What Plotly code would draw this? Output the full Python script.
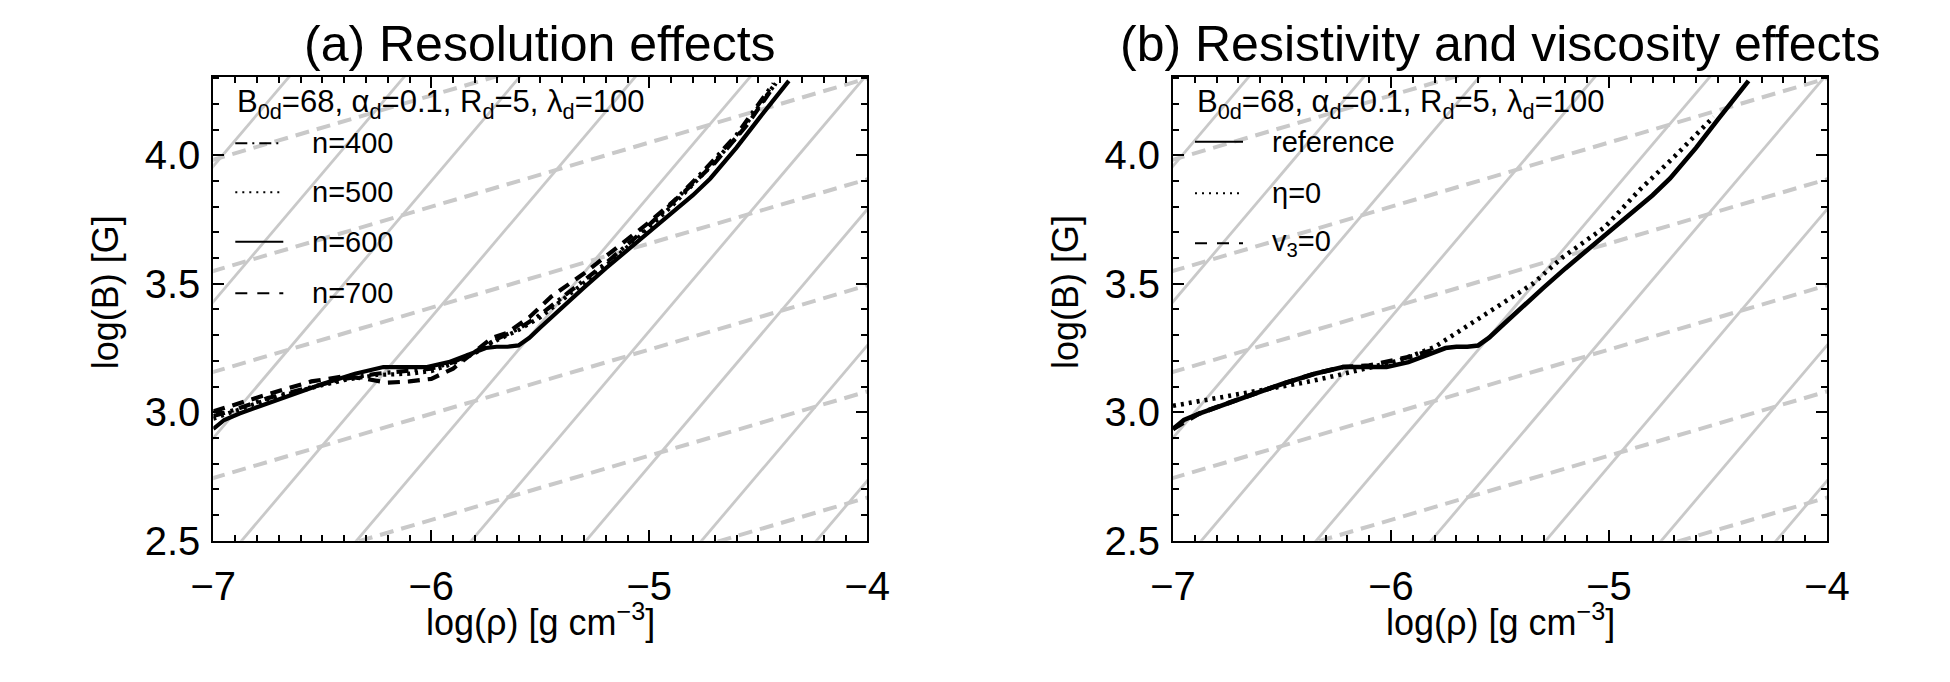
import plotly.graph_objects as go

W, H = 1950, 682

# ---------------- data ----------------
# Panel (a): resolution runs, log(rho) vs log(B)
RHO_N400 = [-7.0, -6.9, -6.75, -6.55, -6.4, -6.25, -6.1, -6.0, -5.9, -5.8, -5.7, -5.6, -5.5, -5.35, -5.2, -5.05, -4.9, -4.75, -4.6, -4.43]
B_N400 = [2.985, 3.01, 3.055, 3.10, 3.13, 3.15, 3.16, 3.17, 3.195, 3.235, 3.285, 3.325, 3.38, 3.48, 3.58, 3.69, 3.81, 3.94, 4.08, 4.28]

RHO_N500 = [-7.0, -6.9, -6.75, -6.55, -6.4, -6.25, -6.1, -6.0, -5.9, -5.8, -5.7, -5.6, -5.5, -5.35, -5.2, -5.05, -4.9, -4.75, -4.6, -4.43]
B_N500 = [2.975, 3.005, 3.05, 3.095, 3.125, 3.145, 3.15, 3.16, 3.19, 3.23, 3.28, 3.32, 3.37, 3.47, 3.57, 3.68, 3.80, 3.93, 4.07, 4.27]

RHO_N600 = [-7.00, -6.95, -6.88, -6.70, -6.50, -6.35, -6.28, -6.22, -6.10, -6.02, -5.92, -5.82, -5.75, -5.70, -5.65, -5.60, -5.55, -5.50, -5.40, -5.30, -5.20, -5.10, -5.00, -4.90, -4.80, -4.72, -4.60, -4.50, -4.36]
B_N600 = [2.935, 2.97, 2.995, 3.05, 3.11, 3.15, 3.165, 3.176, 3.176, 3.176, 3.195, 3.225, 3.25, 3.255, 3.255, 3.26, 3.29, 3.33, 3.41, 3.485, 3.56, 3.63, 3.70, 3.77, 3.845, 3.91, 4.03, 4.14, 4.29]

RHO_N700 = [-7.0, -6.9, -6.75, -6.55, -6.4, -6.3, -6.2, -6.1, -6.0, -5.9, -5.8, -5.72, -5.65, -5.55, -5.45, -5.3, -5.15, -5.0, -4.85, -4.7, -4.55, -4.42]
B_N700 = [3.003, 3.03, 3.07, 3.12, 3.14, 3.13, 3.115, 3.12, 3.13, 3.17, 3.235, 3.29, 3.31, 3.37, 3.45, 3.54, 3.64, 3.74, 3.85, 3.97, 4.12, 4.28]

# Panel (b): resistivity / viscosity runs
RHO_REF = [-7.00, -6.95, -6.88, -6.70, -6.50, -6.35, -6.28, -6.22, -6.10, -6.02, -5.92, -5.82, -5.75, -5.70, -5.65, -5.60, -5.55, -5.50, -5.40, -5.30, -5.20, -5.10, -5.00, -4.90, -4.80, -4.72, -4.60, -4.50, -4.36]
B_REF = [2.935, 2.97, 2.995, 3.05, 3.11, 3.15, 3.165, 3.176, 3.176, 3.176, 3.195, 3.225, 3.25, 3.255, 3.255, 3.26, 3.29, 3.33, 3.41, 3.485, 3.56, 3.63, 3.70, 3.77, 3.845, 3.91, 4.03, 4.14, 4.29]

RHO_ETA0 = [-7.0, -6.8, -6.6, -6.39, -6.25, -6.125, -5.96, -5.80, -5.68, -5.51, -5.35, -5.21, -5.02, -4.86, -4.70, -4.52]
B_ETA0 = [3.025, 3.055, 3.085, 3.117, 3.143, 3.169, 3.202, 3.254, 3.319, 3.41, 3.50, 3.605, 3.72, 3.865, 3.995, 4.15]

RHO_V30 = [-7.0, -6.88, -6.7, -6.5, -6.35, -6.22, -6.1, -6.0, -5.9, -5.8]
B_V30 = [2.935, 2.995, 3.05, 3.11, 3.15, 3.176, 3.182, 3.198, 3.218, 3.245]

# Grey guide lines: log B = slope * log rho + offset
GUIDE_SOLID_SLOPE = 1.0
GUIDE_SOLID_OFFSETS = [10.958, 10.43, 9.90, 9.37, 8.843, 8.316, 7.79, 7.26, 6.733]
GUIDE_DASH_SLOPE = 0.25
GUIDE_DASH_OFFSETS = [5.733, 5.30, 4.907, 4.494, 4.081, 3.668]

X_RANGE = [-7, -4]
Y_RANGE = [2.5, 4.305]
X_TICKS = [-7, -6, -5, -4]
Y_TICKS = [2.5, 3.0, 3.5, 4.0]
Y_TICK_TEXT = ["2.5", "3.0", "3.5", "4.0"]

PARAM_TEXT = "B<sub>0d</sub>=68, α<sub>d</sub>=0.1, R<sub>d</sub>=5, λ<sub>d</sub>=100"
TITLES = ["(a) Resolution effects", "(b) Resistivity and viscosity effects"]
LEGEND_A = ["n=400", "n=500", "n=600", "n=700"]
LEGEND_B = ["reference", "η=0", "v<sub>3</sub>=0"]

# ---------------- styles ----------------
FONT = "Liberation Sans, Arial, Helvetica, sans-serif"
GREY = "#c9c9c9"
DASH_DASHED = "12px,8px"
DASH_DOT = "3px,5px"
DASH_DASHDOT = "12px,6px,3px,6px"
LW = 4.2

# pixel layout
PANEL_X = [(213.3, 867.3), (1173.0, 1827.0)]
PANEL_TOP, PANEL_BOT = 77.0, 540.7


def px_x(x):
    return x / W


def px_y(y):
    return (H - y) / H


fig = go.Figure()


def guide_traces(xa, ya):
    for slope, offsets, dash, width in [
        (GUIDE_SOLID_SLOPE, GUIDE_SOLID_OFFSETS, "solid", 2.8),
        (GUIDE_DASH_SLOPE, GUIDE_DASH_OFFSETS, "14px,8px", 4.0),
    ]:
        xs, ys = [], []
        for c in offsets:
            for xv in (X_RANGE[0] - 0.3, X_RANGE[1] + 0.3):
                xs.append(xv)
                ys.append(slope * xv + c)
            xs.append(None)
            ys.append(None)
        fig.add_trace(go.Scatter(x=xs, y=ys, mode="lines", xaxis=xa, yaxis=ya,
                                 line=dict(color=GREY, width=width, dash=dash),
                                 hoverinfo="skip", showlegend=False))


guide_traces("x", "y")
guide_traces("x2", "y2")

for xs, ys, dash, name in [
    (RHO_N400, B_N400, DASH_DASHDOT, LEGEND_A[0]),
    (RHO_N500, B_N500, DASH_DOT, LEGEND_A[1]),
    (RHO_N700, B_N700, DASH_DASHED, LEGEND_A[3]),
    (RHO_N600, B_N600, "solid", LEGEND_A[2]),
]:
    fig.add_trace(go.Scatter(x=xs, y=ys, mode="lines", xaxis="x", yaxis="y", name=name,
                             line=dict(color="black", width=LW, dash=dash), showlegend=False))

for xs, ys, dash, name in [
    (RHO_V30, B_V30, DASH_DASHED, "v3=0"),
    (RHO_ETA0, B_ETA0, DASH_DOT, "eta=0"),
    (RHO_REF, B_REF, "solid", "reference"),
]:
    fig.add_trace(go.Scatter(x=xs, y=ys, mode="lines", xaxis="x2", yaxis="y2", name=name,
                             line=dict(color="black", width=LW + 0.4, dash=dash), showlegend=False))

axis_common = dict(
    showline=True, linecolor="black", linewidth=2, mirror="allticks",
    ticks="inside", ticklen=11, tickwidth=2, tickcolor="black",
    showgrid=False, zeroline=False, automargin=False,
    tickfont=dict(family=FONT, size=40, color="black"),
)

y_dom = [px_y(PANEL_BOT), px_y(PANEL_TOP)]
layout_axes = {}
for i, (x0, x1) in enumerate(PANEL_X):
    sfx = "" if i == 0 else str(i + 1)
    layout_axes["xaxis" + sfx] = dict(
        axis_common, domain=[px_x(x0), px_x(x1)], range=X_RANGE,
        tickvals=X_TICKS, ticklabelstandoff=9, anchor="y" + sfx,
        minor=dict(ticks="inside", dtick=0.1, tick0=-7, ticklen=6, tickwidth=1.6,
                   tickcolor="black", showgrid=False),
    )
    layout_axes["yaxis" + sfx] = dict(
        axis_common, domain=y_dom, range=Y_RANGE,
        tickvals=Y_TICKS, ticktext=Y_TICK_TEXT, ticklabelstandoff=3, anchor="x" + sfx,
        minor=dict(ticks="inside", dtick=0.1, tick0=2.5, ticklen=6, tickwidth=1.6,
                   tickcolor="black", showgrid=False),
    )

annotations = []
shapes = []
for i, (x0, x1) in enumerate(PANEL_X):
    cx = (x0 + x1) / 2
    annotations.append(dict(text=TITLES[i], x=px_x(cx), y=px_y(44), xref="paper", yref="paper",
                            xanchor="center", yanchor="middle", showarrow=False,
                            font=dict(family=FONT, size=50, color="black")))
    annotations.append(dict(text="log(ρ) [g cm<sup>−3</sup>]", x=px_x(cx), y=px_y(620),
                            xref="paper", yref="paper", xanchor="center", yanchor="middle",
                            showarrow=False, font=dict(family=FONT, size=36, color="black")))
    annotations.append(dict(text="log(B) [G]", x=px_x(x0 - 107), y=px_y(292),
                            xref="paper", yref="paper", xanchor="center", yanchor="middle",
                            textangle=-90, showarrow=False,
                            font=dict(family=FONT, size=36, color="black")))
    annotations.append(dict(text=PARAM_TEXT, x=px_x(x0 + 22), y=px_y(104),
                            xref="paper", yref="paper", xanchor="left", yanchor="middle",
                            showarrow=False, font=dict(family=FONT, size=31, color="black")))

legend_rows_a = [(143.3, LEGEND_A[0], "12px,5px,2px,5px"), (192.3, LEGEND_A[1], "2px,5px"),
                 (241.7, LEGEND_A[2], "solid"), (293.3, LEGEND_A[3], "12px,10px")]
legend_rows_b = [(141.7, LEGEND_B[0], "solid"), (193.3, LEGEND_B[1], "2px,5px"),
                 (243.3, LEGEND_B[2], "12px,10px")]
for (x0, _), rows in zip(PANEL_X, [legend_rows_a, legend_rows_b]):
    for yy, label, dash in rows:
        shapes.append(dict(type="line", xref="paper", yref="paper",
                           x0=px_x(x0 + 22), x1=px_x(x0 + 70), y0=px_y(yy), y1=px_y(yy),
                           line=dict(color="black", width=2, dash=dash)))
        annotations.append(dict(text=label, x=px_x(x0 + 97), y=px_y(yy), xref="paper", yref="paper",
                                xanchor="left", yanchor="middle", showarrow=False,
                                font=dict(family=FONT, size=29, color="black")))

fig.update_layout(
    width=W, height=H, margin=dict(l=0, r=0, t=0, b=0, autoexpand=False),
    paper_bgcolor="white", plot_bgcolor="white", showlegend=False,
    annotations=annotations, shapes=shapes, **layout_axes,
)

fig.write_html("out.html")
